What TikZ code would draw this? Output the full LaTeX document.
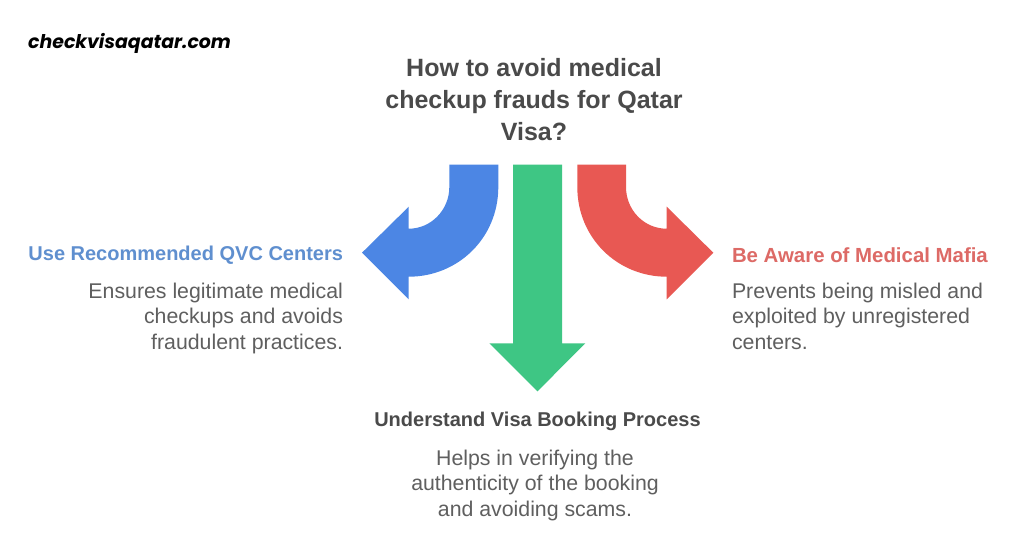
\documentclass[tikz,border=0pt]{standalone}
\usepackage{fontspec}
\setmainfont{Liberation Sans}
\newfontfamily\brandfont{Poppins}
\definecolor{bluea}{HTML}{4C86E4}
\definecolor{greena}{HTML}{3EC684}
\definecolor{reda}{HTML}{E85853}
\definecolor{titleg}{HTML}{4A4A4A}
\definecolor{bodyg}{HTML}{5F5F5F}
\definecolor{blueh}{HTML}{5F8FCF}
\definecolor{redh}{HTML}{DD6A66}
\tikzset{x=1pt,y=-1pt,
  txt/.style={inner sep=0pt,outer sep=0pt,font=\fontsize{21.3}{25.5}\selectfont,text=bodyg},
  head/.style={inner sep=0pt,outer sep=0pt,font=\fontsize{20}{24}\selectfont\bfseries},
}
\begin{document}
\begin{tikzpicture}
\useasboundingbox (0,0) rectangle (1024,536);
\fill[white] (0,0) rectangle (1024,536);
\node[inner sep=0pt,anchor=west,font=\brandfont\fontsize{18.9}{22}\selectfont\bfseries\itshape,text=black] (brand) at (28,43) {checkvisaqatar.com};
\node[inner sep=0pt,align=center,font=\fontsize{25}{32.2}\selectfont\bfseries,text=titleg] (title) at (534,99.5) {How to avoid medical\\checkup frauds for Qatar\\Visa?};
% blue arrow
\fill[bluea] (449.3,164.7) -- (498.3,164.7) -- (498.3,187)
  .. controls (498.3,238) and (458,276.7) .. (408.7,276.7)
  -- (408.7,299.3) -- (362,252.7) -- (408.7,206.7) -- (408.7,228.7)
  .. controls (431,228.7) and (449.3,210) .. (449.3,187) -- cycle;
% green arrow
\fill[greena] (513,164.7) -- (562,164.7) -- (562,343.3) -- (585.3,343.3) -- (537.5,391.3) -- (489.3,343.3) -- (513,343.3) -- cycle;
% red arrow
\fill[reda] (626,164.7) -- (577.3,164.7) -- (577.3,187)
  .. controls (577.3,238) and (617.5,276.7) .. (666.7,276.7)
  -- (666.7,299.3) -- (713.3,252.7) -- (666.7,206.7) -- (666.7,228.7)
  .. controls (644,228.7) and (626,210) .. (626,187) -- cycle;
% left text
\node[head,anchor=east,text=blueh] (lh) at (343,255) {Use Recommended QVC Centers};
\node[txt,anchor=north east,align=right] (lb) at (343,283) {Ensures legitimate medical\\checkups and avoids\\fraudulent practices.};
% right text
\node[head,anchor=west,text=redh,font=\fontsize{20.4}{24}\selectfont\bfseries] (rh) at (732,255) {Be Aware of Medical Mafia};
\node[txt,anchor=north west,align=left] (rb) at (732,283) {Prevents being misled and\\exploited by unregistered\\centers.};
% bottom text
\node[head,anchor=center,text=titleg] (bh) at (537.5,421) {Understand Visa Booking Process};
\node[txt,anchor=north,align=center] (bb) at (535,450) {Helps in verifying the\\authenticity of the booking\\and avoiding scams.};
\end{tikzpicture}
\end{document}
